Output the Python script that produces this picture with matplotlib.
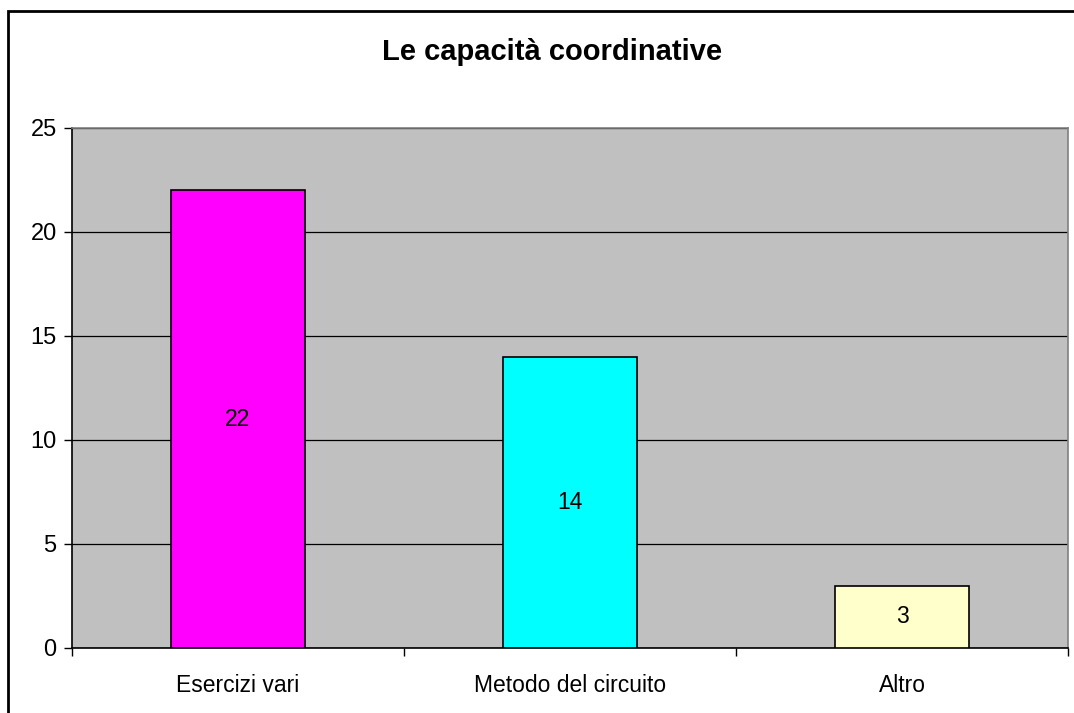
import matplotlib
matplotlib.use("Agg")
import matplotlib.pyplot as plt
from matplotlib.patches import Rectangle

categories = ["Esercizi vari", "Metodo del circuito", "Altro"]
values = [22, 14, 3]
colors = ["#FF00FF", "#00FFFF", "#FFFFCC"]
yticks = [0, 5, 10, 15, 20, 25]
title = "Le capacità coordinative"

plt.rcParams['font.family'] = ['Liberation Sans', 'DejaVu Sans']

fig = plt.figure(figsize=(10.74, 7.13), dpi=100)
ax = fig.add_axes([72/1074, 65/713, 996/1074, 520/713])
ax.set_facecolor("#C0C0C0")

x = list(range(len(categories)))
bars = ax.bar(x, values, width=0.403, color=colors, edgecolor="black", linewidth=1.2, zorder=3)
for b, v in zip(bars, values):
    ax.text(b.get_x() + b.get_width()/2, v/2, str(v), ha="center", va="center", fontsize=16.5, zorder=4)

ax.set_xlim(-0.5, len(categories) - 0.5)
ax.set_ylim(0, 25)
ax.set_yticks(yticks)
ax.set_yticklabels([str(t) for t in yticks], fontsize=17)
ax.yaxis.grid(True, color="black", linewidth=0.9, zorder=1)
ax.set_axisbelow(True)

ax.set_xticks([i - 0.5 for i in range(len(categories) + 1)])
ax.set_xticklabels([])
ax.set_xticks(x, minor=True)
ax.set_xticklabels(categories, minor=True, fontsize=16.5)
ax.tick_params(axis="x", which="minor", length=0, pad=19)
ax.tick_params(axis="x", which="major", length=6, width=1, direction="out")
ax.tick_params(axis="y", length=6, width=1, direction="out", pad=5)

ax.spines["left"].set_color("black")
ax.spines["bottom"].set_color("black")
ax.spines["top"].set_color("#808080")
ax.spines["right"].set_color("#808080")
for s in ax.spines.values():
    s.set_linewidth(1.2)

fig.text(552/1074, 1 - 52/713, title, ha="center", va="center", fontsize=21, fontweight="bold")

fig.patches.append(Rectangle((8/1074, -0.05), 1.1, 1 - 11/713 + 0.05, transform=fig.transFigure,
                             fill=False, edgecolor="black", linewidth=2, zorder=0))

fig.savefig("out.png", dpi=100)
